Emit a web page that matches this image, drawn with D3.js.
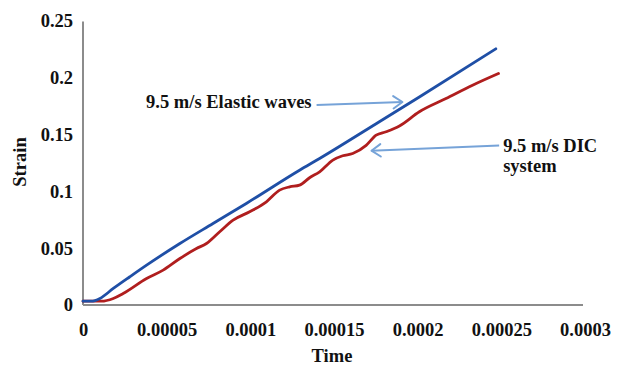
<!DOCTYPE html>
<html>
<head>
<meta charset="utf-8">
<script src="https://cdn.jsdelivr.net/npm/d3@7"></script>
<style>
  html, body { margin: 0; padding: 0; background: #ffffff; }
  svg { display: block; }
  text { font-family: "Liberation Serif", "Times New Roman", serif; font-weight: bold; fill: #111; }
</style>
</head>
<body>
<svg id="chart" width="621" height="365"></svg>
<script>
// ---- data ----
const xTicks = [0, 0.00005, 0.0001, 0.00015, 0.0002, 0.00025, 0.0003];
const xTickLabels = ["0", "0.00005", "0.0001", "0.00015", "0.0002", "0.00025", "0.0003"];
const yTicks = [0, 0.05, 0.1, 0.15, 0.2, 0.25];
const yTickLabels = ["0", "0.05", "0.1", "0.15", "0.2", "0.25"];

const elasticTime = [0, 0.000005, 0.0000101, 0.0000181, 0.000028, 0.000038, 0.0000579, 0.0000777,
  0.0000976, 0.0001294, 0.0001414, 0.0001771, 0.000201, 0.0002467];
const elasticStrain = [0.002, 0.002, 0.0044, 0.0132, 0.0235, 0.0337, 0.0527, 0.0703,
  0.0879, 0.1171, 0.1274, 0.1597, 0.1815, 0.2238];

const dicTime = [0, 0.000011, 0.0000181, 0.000024, 0.000038, 0.0000479, 0.0000579, 0.0000678,
  0.0000738, 0.0000817, 0.0000897, 0.0000996, 0.0001096, 0.0001175, 0.0001235, 0.0001294,
  0.0001354, 0.0001414, 0.0001493, 0.0001552, 0.0001612, 0.0001692, 0.0001752, 0.0001811,
  0.0001891, 0.000201, 0.0002169, 0.0002328, 0.0002483];
const dicStrain = [0.002, 0.002, 0.0044, 0.0088, 0.022, 0.0293, 0.0395, 0.0483,
  0.0527, 0.063, 0.0732, 0.0806, 0.0894, 0.0996, 0.1025, 0.104,
  0.1105, 0.1157, 0.126, 0.1298, 0.1318, 0.139, 0.1479, 0.1509,
  0.156, 0.1685, 0.1801, 0.1918, 0.2021];

const seriesNames = ["9.5 m/s Elastic waves", "9.5 m/s DIC system"];
const seriesColors = ["#1f4fa6", "#b01e1e"];

// annotations in data units
const elasticNote = { lines: ["9.5 m/s Elastic waves"], anchor: "end", t: 0.0001366, s: 0.1731,
  from: [0.0001396, 0.1757], to: [0.0001909, 0.1784] };
const dicNote = { lines: ["9.5 m/s DIC", "system"], anchor: "start", t: 0.0002511, s: 0.1344,
  from: [0.0002487, 0.1402], to: [0.0001724, 0.1356] };

// ---- layout ----
const svg = d3.select("#chart");
const x = d3.scaleLinear().domain([0, 0.0003]).range([83, 585]);
const y = d3.scaleLinear().domain([0, 0.25]).range([305, 20.5]);
const fs = 18.5;

// axes
const axisColor = "#8c8c8c";
const xAxis = svg.append("g").attr("transform", `translate(0,${y(0)})`)
  .call(d3.axisBottom(x).tickValues(xTicks).tickSize(0).tickPadding(18)
    .tickFormat((d, i) => xTickLabels[i]));
xAxis.select(".domain").attr("stroke", axisColor).attr("stroke-width", 2).attr("d", `M${x(0)},0H${x(0.0003) - 2}`);
xAxis.selectAll("text").attr("font-size", fs).attr("font-family", "Liberation Serif").attr("font-weight", "bold").attr("fill", "#111");

const yAxis = svg.append("g").attr("transform", `translate(${x(0)},0)`)
  .call(d3.axisLeft(y).tickValues(yTicks).tickSize(0).tickPadding(10)
    .tickFormat((d, i) => yTickLabels[i]));
yAxis.select(".domain").attr("stroke", axisColor).attr("stroke-width", 2).attr("d", `M0,${y(0.25) + 1}V${y(0)}`);
yAxis.selectAll("text").attr("font-size", fs).attr("font-family", "Liberation Serif").attr("font-weight", "bold").attr("fill", "#111");

// axis titles
svg.append("text").attr("x", 332).attr("y", 362).attr("text-anchor", "middle")
  .attr("font-size", fs).text("Time");
svg.append("text").attr("transform", "translate(26,162) rotate(-90)").attr("text-anchor", "middle")
  .attr("font-size", fs).text("Strain");

// lines
const line = d3.line().x(d => x(d[0])).y(d => y(d[1]) - 1.5).curve(d3.curveMonotoneX);
const series = [
  elasticTime.map((t, i) => [t, elasticStrain[i]]),
  dicTime.map((t, i) => [t, dicStrain[i]])
];
[1, 0].forEach(k => {
  svg.append("path").datum(series[k]).attr("d", line)
    .attr("fill", "none").attr("stroke", seriesColors[k]).attr("stroke-width", 2.8)
    .attr("stroke-linecap", "round").attr("stroke-linejoin", "round");
});

// annotations
const arrowColor = "#76a3d8";
function arrow(note) {
  const x1 = x(note.from[0]), y1 = y(note.from[1]);
  const x2 = x(note.to[0]), y2 = y(note.to[1]);
  svg.append("line").attr("x1", x1).attr("y1", y1).attr("x2", x2).attr("y2", y2)
    .attr("stroke", arrowColor).attr("stroke-width", 2);
  const ang = Math.atan2(y2 - y1, x2 - x1);
  const L = 11, W = 0.6;
  const p1 = [x2 - L * Math.cos(ang - W), y2 - L * Math.sin(ang - W)];
  const p2 = [x2 - L * Math.cos(ang + W), y2 - L * Math.sin(ang + W)];
  svg.append("path").attr("d", `M${p1[0]},${p1[1]}L${x2},${y2}L${p2[0]},${p2[1]}`)
    .attr("fill", "none").attr("stroke", arrowColor).attr("stroke-width", 2)
    .attr("stroke-linejoin", "round").attr("stroke-linecap", "round");
}
function label(note) {
  note.lines.forEach((l, i) => {
    svg.append("text").attr("x", x(note.t)).attr("y", y(note.s) + i * 19.5)
      .attr("text-anchor", note.anchor).attr("font-size", fs).text(l);
  });
}
arrow(elasticNote); label(elasticNote);
arrow(dicNote); label(dicNote);
</script>
</body>
</html>
